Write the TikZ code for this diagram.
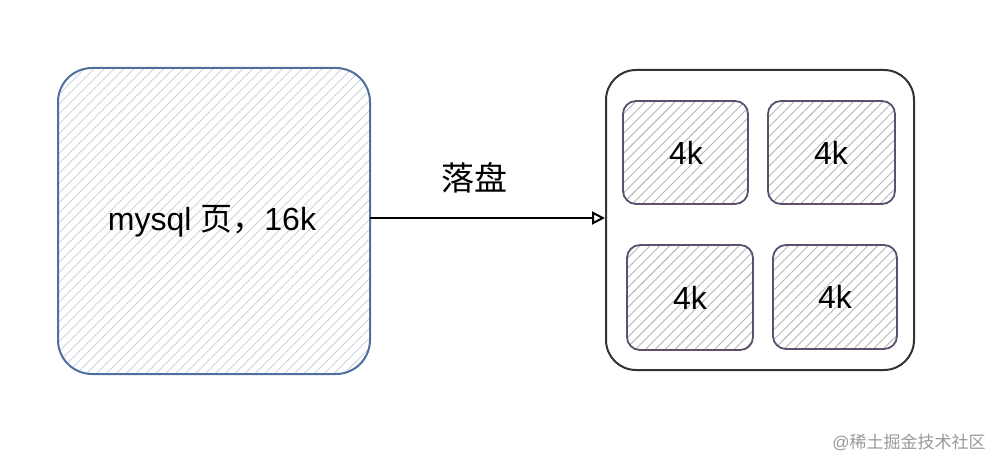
\documentclass[tikz,border=0pt]{standalone}
\usepackage{fontspec}
\setmainfont{Liberation Sans}
\newfontfamily\cjk{Noto Sans CJK SC}
\usetikzlibrary{patterns.meta,arrows.meta}
\definecolor{bluestroke}{HTML}{4F6F9C}
\definecolor{bluehatch}{HTML}{CDD4DE}
\definecolor{darkstroke}{HTML}{333333}
\definecolor{purplestroke}{HTML}{5E4F6E}
\definecolor{grayhatch}{HTML}{B5B5B5}
\tikzset{
  bigbox/.style={rounded corners=34pt, line width=2pt},
  cell/.style={draw=purplestroke, rounded corners=13pt, line width=1.8pt,
    pattern={Lines[angle=45,distance=7pt,line width=0.9pt]}, pattern color=grayhatch},
  lbl/.style={font=\fontsize{32}{38}\selectfont, text=black},
}
\begin{document}
\begin{tikzpicture}[x=1pt,y=-1pt]
\useasboundingbox (0,0) rectangle (1004,470);
% left box
\path[bigbox, draw=bluestroke, pattern={Lines[angle=45,distance=7pt,line width=0.9pt]}, pattern color=bluehatch]
  (58,68) rectangle (370,374);
\node[lbl] (page) at (212,221) {mysql {\cjk 页，}16k};
\coordinate (pageE) at (370,218);
% right box
\draw[bigbox, rounded corners=30pt, draw=darkstroke] (606,70) rectangle (914,370);
\coordinate (diskW) at (605,218);
\draw[cell] (623,101) rectangle (748,204);
\draw[cell] (768,101) rectangle (895,204);
\draw[cell] (627,245) rectangle (753,350);
\draw[cell] (773,245) rectangle (897,349);
\node[lbl] (c1) at (686,153) {4k};
\node[lbl] (c2) at (831,153) {4k};
\node[lbl] (c3) at (690,298) {4k};
\node[lbl] (c4) at (835,297) {4k};
% arrow
\draw[line width=2pt, -{Triangle[open,length=13pt,width=13pt]}] (pageE) -- (diskW);
\node[lbl, font=\fontsize{33}{38}\selectfont] (lab) at (474,178) {\cjk 落盘};
% watermark
\node[text=gray!80, font=\fontsize{17}{20}\selectfont] (wm) at (909,442) {@{\cjk 稀土掘金技术社区}};
\end{tikzpicture}
\end{document}
